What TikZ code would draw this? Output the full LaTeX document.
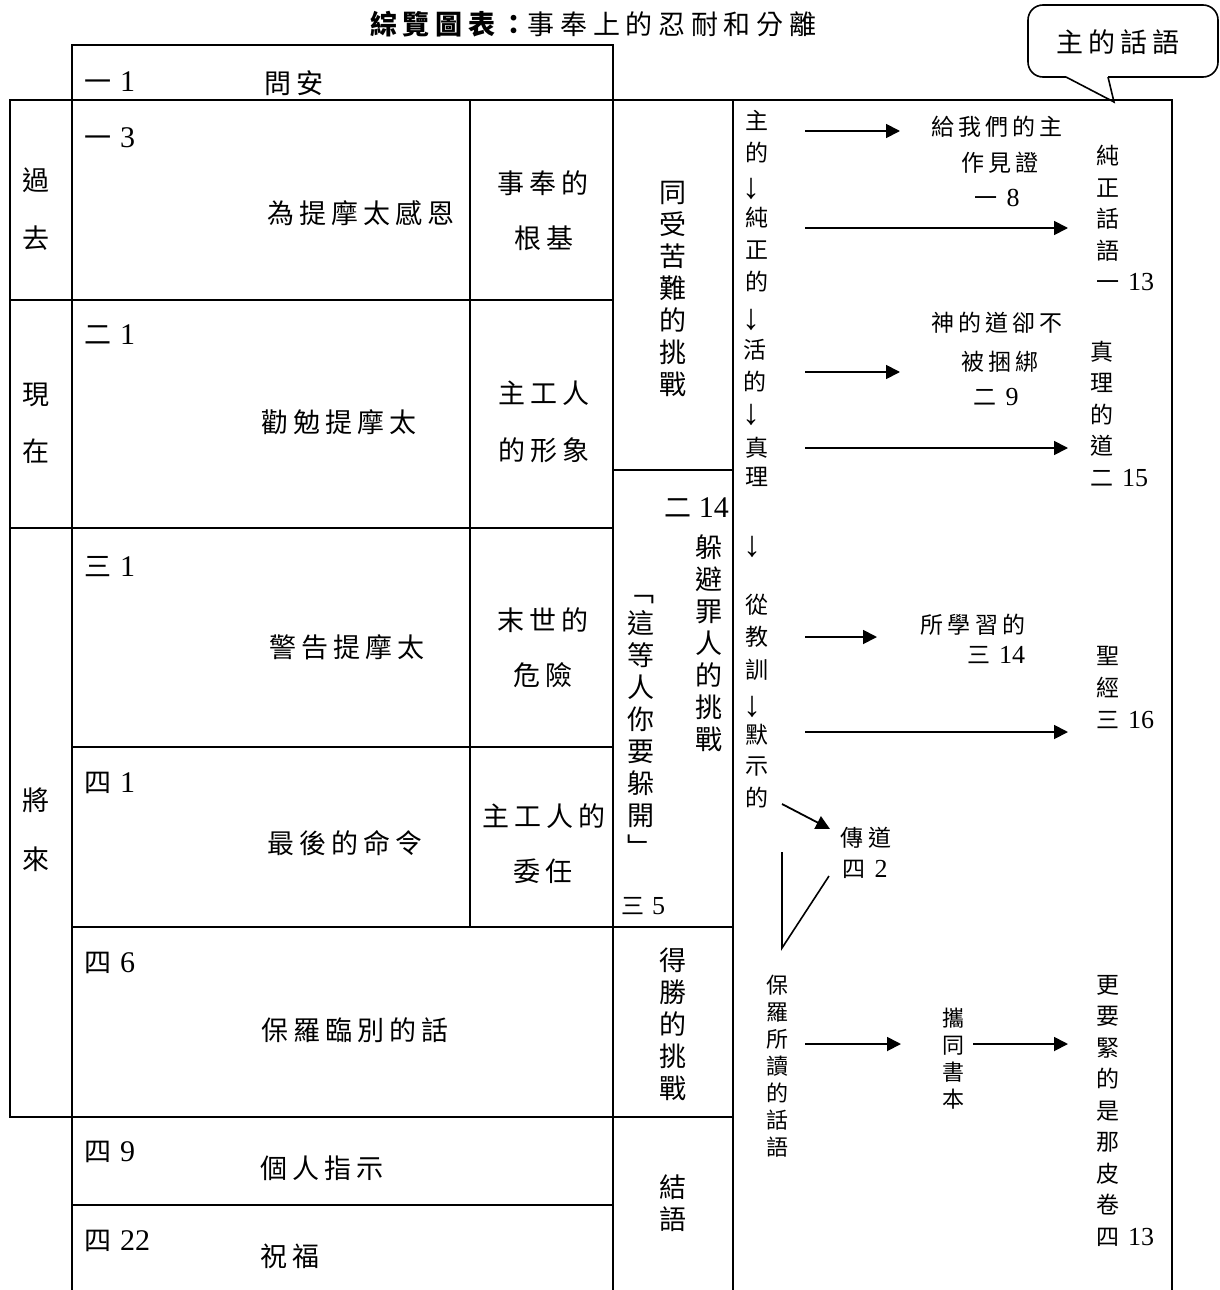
\documentclass[tikz,border=0pt]{standalone}
\usepackage{fontspec}
\setmainfont{Liberation Serif}
\newfontfamily\cjk[LetterSpace=18]{Noto Sans CJK TC}
\newfontfamily\cjkt[LetterSpace=21]{Noto Sans CJK TC}
\newfontfamily\cjkv{Noto Sans CJK TC}
\usetikzlibrary{arrows.meta}
\def\cjksz{}
\newcommand\vref[3][10pt]{{\cjkv\cjksz #2}\hspace{#1}#3}
\tikzset{
  tl/.style={line width=2.6pt, line cap=rect},
  big/.style={font=\cjk\fontsize{27}{32}\selectfont, inner sep=0pt},
  vbig/.style={font=\cjkv\fontsize{27}{32}\selectfont, inner sep=0pt, align=center},
  sm/.style={font=\cjk\fontsize{23}{32}\selectfont, inner sep=0pt},
  vsm/.style={font=\cjkv\fontsize{23}{31.5}\selectfont, inner sep=0pt, align=center},
  vxs/.style={font=\cjkv\fontsize{22}{27}\selectfont, inner sep=0pt, align=center},
  refl/.style={font=\fontsize{30}{32}\selectfont\def\cjksz{\fontsize{27}{32}\selectfont}, inner sep=0pt, anchor=west},
  refs/.style={font=\fontsize{26}{28}\selectfont\def\cjksz{\fontsize{23}{28}\selectfont}, inner sep=0pt},
  darr/.style={font=\fontsize{36}{38}\selectfont, inner sep=0pt},
  arr/.style={line width=1.8pt, -{Triangle[length=14pt,width=14pt]}},
  thin/.style={line width=1.6pt},
}
\begin{document}
\begin{tikzpicture}[x=1pt,y=-1pt]
\useasboundingbox (0,0) rectangle (1220,1290);
\fill[white] (0,0) rectangle (1220,1290);

% title
\node[font=\cjkt\fontsize{27}{32}\selectfont, inner sep=0pt, anchor=west] (title) at (370,24) {{\bfseries 綜覽圖表：}事奉上的忍耐和分離};

% callout
\draw[thin, rounded corners=15pt] (1108,77) -- (1218,77) -- (1218,5) -- (1028,5) -- (1028,77) -- (1066,77);
\draw[thin, line join=miter] (1066,77) -- (1114,102) -- (1108,77);
\node[big] (callout) at (1118,42) {主的話語};

% table lines
\draw[tl] (72,45) -- (613,45);
\draw[tl] (10,100) -- (1172,100);
\draw[tl] (10,300) -- (613,300);
\draw[tl] (613,470) -- (733,470);
\draw[tl] (10,528) -- (613,528);
\draw[tl] (72,747) -- (613,747);
\draw[tl] (72,927) -- (733,927);
\draw[tl] (10,1117) -- (733,1117);
\draw[tl] (72,1205) -- (613,1205);
\draw[tl] (10,100) -- (10,1117);
\draw[tl] (72,45) -- (72,1292);
\draw[tl] (470,100) -- (470,927);
\draw[tl] (613,45) -- (613,1292);
\draw[tl] (733,100) -- (733,1292);
\draw[tl] (1172,100) -- (1172,1292);

% left column
\node[vbig] (g1) at (36,180) {過};
\node[vbig] (g2) at (36,238) {去};
\node[vbig] (g3) at (36,395) {現};
\node[vbig] (g4) at (36,451) {在};
\node[vbig] (g5) at (36,800) {將};
\node[vbig] (g6) at (36,859) {來};

% reference labels
\node[refl] (r1) at (84,82) {\vref[9pt]{一}{1}};
\node[refl] (r2) at (84,138) {\vref[9pt]{一}{3}};
\node[refl] (r3) at (84,335) {\vref[9pt]{二}{1}};
\node[refl] (r4) at (84,567) {\vref[9pt]{三}{1}};
\node[refl] (r5) at (84,783) {\vref[9pt]{四}{1}};
\node[refl] (r6) at (84,963) {\vref[9pt]{四}{6}};
\node[refl] (r7) at (84,1152) {\vref[9pt]{四}{9}};
\node[refl] (r8) at (84,1241) {\vref[9pt]{四}{22}};

% main texts
\node[big] (s1) at (294,83) {問安};
\node[big] (s2) at (361,213) {為提摩太感恩};
\node[big] (s3) at (339,422) {勸勉提摩太};
\node[big] (s4) at (347,647) {警告提摩太};
\node[big] (s5) at (345,843) {最後的命令};
\node[big] (s6) at (355,1030) {保羅臨別的話};
\node[big] (s7) at (322,1168) {個人指示};
\node[big] (s8) at (290,1256) {祝福};

\node[big] (k1) at (543,183) {事奉的};
\node[big] (k2) at (544,238) {根基};
\node[big] (k3) at (544,393) {主工人};
\node[big] (k4) at (544,450) {的形象};
\node[big] (k5) at (543,620) {末世的};
\node[big] (k6) at (543,675) {危險};
\node[big] (k7) at (544,816) {主工人的};
\node[big] (k8) at (543,871) {委任};

% middle column
\node[vbig] (m1) at (673,289) {同\\受\\苦\\難\\的\\挑\\戰};
\node[refl, anchor=east] (m2) at (729,508) {\vref[7pt]{二}{14}};
\node[vbig] (m3) at (709,643) {躲\\避\\罪\\人\\的\\挑\\戰};
\node[vbig] (m4) at (641,726) {﹁\\這\\等\\人\\你\\要\\躲\\開\\﹂};
\node[refs, anchor=west] (m5) at (621,906) {\vref[8pt]{三}{5}};
\node[vbig] (m6) at (673,1024) {得\\勝\\的\\挑\\戰};
\node[vbig] (m7) at (673,1203) {結\\語};

% right box: flow column
\node[vsm] (c1) at (757,120) {主};
\node[vsm] (c2) at (757,153) {的};
\node[darr] (d1) at (751,189) {↓};
\node[vsm] (c3) at (757,218) {純};
\node[vsm] (c4) at (757,250) {正};
\node[vsm] (c5) at (757,282) {的};
\node[darr] (d2) at (751,320) {↓};
\node[vsm] (c6) at (755,350) {活};
\node[vsm] (c7) at (755,382) {的};
\node[darr] (d3) at (751,415) {↓};
\node[vsm] (c8) at (757,448) {真};
\node[vsm] (c9) at (757,477) {理};
\node[darr] (d4) at (752,547) {↓};
\node[vsm] (c10) at (757,605) {從};
\node[vsm] (c11) at (757,637) {教};
\node[vsm] (c12) at (757,670) {訓};
\node[darr] (d5) at (752,707) {↓};
\node[vsm] (c13) at (757,735) {默};
\node[vsm] (c14) at (757,767) {示};
\node[vsm] (c15) at (757,798) {的};

% right box: targets
\node[sm] (t1) at (997,127) {給我們的主};
\node[sm] (t2) at (1000,163) {作見證};
\node[refs] (t3) at (997,198) {\vref[9pt]{一}{8}};
\node[vsm] (w1) at (1108,203) {純\\正\\話\\語};
\node[refs, anchor=west] (w2) at (1096,282) {\vref[9pt]{一}{13}};
\node[sm] (t4) at (997,323) {神的道卻不};
\node[sm] (t5) at (1000,362) {被捆綁};
\node[refs] (t6) at (996,397) {\vref[9pt]{二}{9}};
\node[vsm] (w3) at (1102,399) {真\\理\\的\\道};
\node[refs, anchor=west] (w4) at (1090,478) {\vref[9pt]{二}{15}};
\node[sm] (t7) at (973,625) {所學習的};
\node[refs] (t8) at (996,655) {\vref[9pt]{三}{14}};
\node[vsm] (w5) at (1108,672) {聖\\經};
\node[refs, anchor=west] (w6) at (1096,720) {\vref[9pt]{三}{16}};
\node[sm] (t9) at (866,838) {傳道};
\node[refs] (t10) at (865,869) {\vref[9pt]{四}{2}};
\node[vxs] (p1) at (777,1066) {保\\羅\\所\\讀\\的\\話\\語};
\node[vxs] (p2) at (953,1059) {攜\\同\\書\\本};
\node[vsm] (p3) at (1108,1095) {更\\要\\緊\\的\\是\\那\\皮\\卷};
\node[refs, anchor=west] (p4) at (1096,1237) {\vref[9pt]{四}{13}};

% arrows
\coordinate (a1s) at (805,131);  \coordinate (a1e) at (900,131);
\coordinate (a2s) at (805,228);  \coordinate (a2e) at (1068,228);
\coordinate (a3s) at (805,372);  \coordinate (a3e) at (900,372);
\coordinate (a4s) at (805,448);  \coordinate (a4e) at (1068,448);
\coordinate (a5s) at (805,637);  \coordinate (a5e) at (877,637);
\coordinate (a6s) at (805,732);  \coordinate (a6e) at (1068,732);
\coordinate (a7s) at (805,1044); \coordinate (a7e) at (901,1044);
\coordinate (a8s) at (973,1044); \coordinate (a8e) at (1068,1044);
\coordinate (a9s) at (782,804);  \coordinate (a9e) at (830,829);
\draw[arr] (a1s) -- (a1e);
\draw[arr] (a2s) -- (a2e);
\draw[arr] (a3s) -- (a3e);
\draw[arr] (a4s) -- (a4e);
\draw[arr] (a5s) -- (a5e);
\draw[arr] (a6s) -- (a6e);
\draw[arr] (a7s) -- (a7e);
\draw[arr] (a8s) -- (a8e);
\draw[arr] (a9s) -- (a9e);

% V lines
\coordinate (v1) at (782,852);
\coordinate (v2) at (782,948);
\coordinate (v3) at (829,876);
\draw[thin] (v1) -- (v2) -- (v3);
\end{tikzpicture}
\end{document}
